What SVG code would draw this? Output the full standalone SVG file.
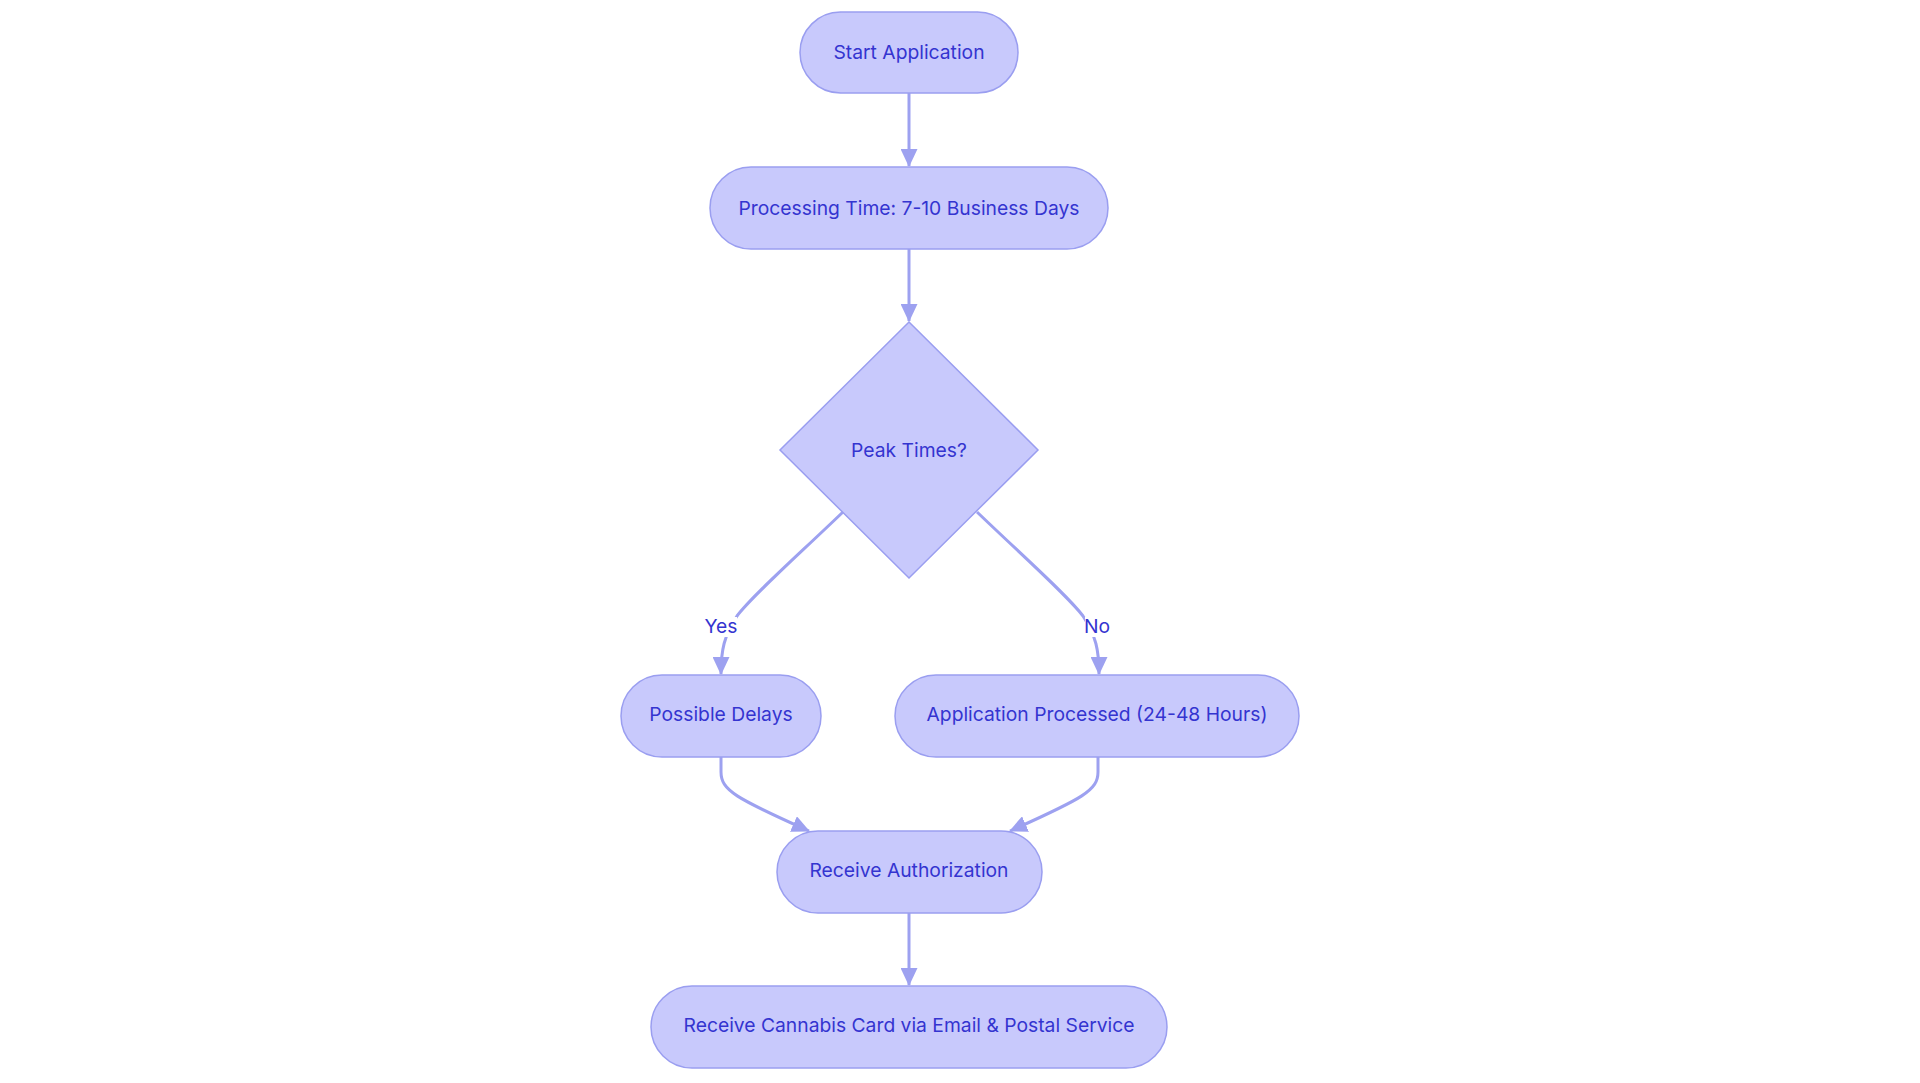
<svg xmlns="http://www.w3.org/2000/svg" width="1920" height="1083" viewBox="0 0 1920 1083">
<style>
.node rect, .node polygon { fill: #c8c9fc; stroke: #9a9ef0; stroke-width: 1.5; }
.lbl { font-family: Inter, "Noto Sans", "Liberation Sans", sans-serif; font-size: 19.3px; fill: #3434d0; text-anchor: middle; }
.edge { fill: none; stroke: #9da1f0; stroke-width: 3; }
.elbg { fill: #ffffff; }
</style>
<defs>
<marker id="arr" viewBox="0 0 18 17" refX="17" refY="8.5" markerWidth="18" markerHeight="17" markerUnits="userSpaceOnUse" orient="auto">
<path d="M0,0 L18,8.5 L0,17 z" fill="#9da1f0"/>
</marker>
</defs>
<rect width="1920" height="1083" fill="#ffffff"/>
<g id="connectors">
<path class="edge" d="M909,93 L909,166" marker-end="url(#arr)"/>
<path class="edge" d="M909,249 L909,321" marker-end="url(#arr)"/>
<path class="edge" d="M843,512 C795,558 752,596 737,616 C724,636 721,650 721,674" marker-end="url(#arr)"/>
<path class="edge" d="M977,512 C1025,558 1068,596 1083,616 C1096,636 1099,650 1099,674" marker-end="url(#arr)"/>
<path class="edge" d="M721,757 L721,772 C721,790 735,798 809,831" marker-end="url(#arr)"/>
<path class="edge" d="M1098,757 L1098,772 C1098,790 1084,798 1010,831" marker-end="url(#arr)"/>
<path class="edge" d="M909,913 L909,985" marker-end="url(#arr)"/>
<g id="label-yes">
<rect class="elbg" x="705" y="617" width="32" height="20"/>
<text class="lbl" x="721" y="633">Yes</text>
</g>
<g id="label-no">
<rect class="elbg" x="1085" y="617" width="26" height="20"/>
<text class="lbl" x="1097" y="633">No</text>
</g>
</g>
<g id="start" class="node">
<rect x="800" y="12" width="218" height="81" rx="40.5"/>
<text class="lbl" x="909" y="59">Start Application</text>
</g>
<g id="processing" class="node">
<rect x="710" y="167" width="398" height="82" rx="41"/>
<text class="lbl" x="909" y="215">Processing Time: 7-10 Business Days</text>
</g>
<g id="peak" class="node">
<polygon points="909,322 1038,450 909,578 780,450"/>
<text class="lbl" x="909" y="457">Peak Times?</text>
</g>
<g id="delays" class="node">
<rect x="621" y="675" width="200" height="82" rx="41"/>
<text class="lbl" x="721" y="721">Possible Delays</text>
</g>
<g id="processed" class="node">
<rect x="895" y="675" width="404" height="82" rx="41"/>
<text class="lbl" x="1097" y="721">Application Processed (24-48 Hours)</text>
</g>
<g id="auth" class="node">
<rect x="777" y="831" width="265" height="82" rx="41"/>
<text class="lbl" x="909" y="877">Receive Authorization</text>
</g>
<g id="card" class="node">
<rect x="651" y="986" width="516" height="82" rx="41"/>
<text class="lbl" x="909" y="1032">Receive Cannabis Card via Email &amp; Postal Service</text>
</g>
</svg>
